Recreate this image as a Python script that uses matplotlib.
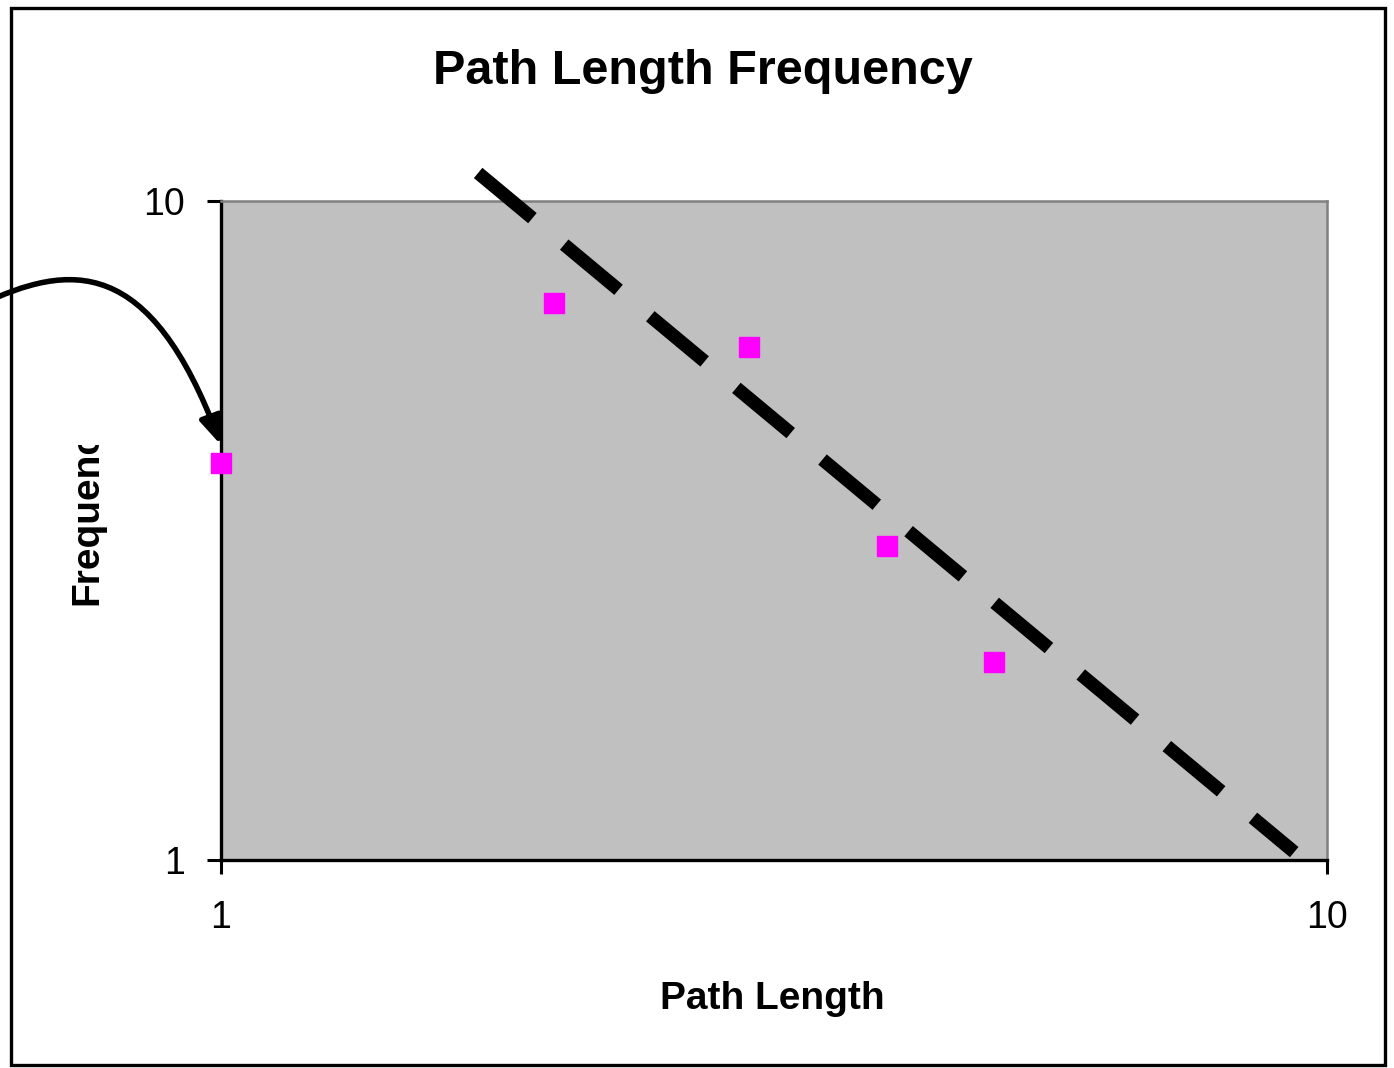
import matplotlib
matplotlib.use("Agg")
import matplotlib.pyplot as plt
from matplotlib.patches import Rectangle, FancyArrowPatch, ArrowStyle
from matplotlib.path import Path
from matplotlib.transforms import Bbox, TransformedBbox

# ---- data ----
path_length = [1, 2, 3, 4, 5]
frequency = [4, 7, 6, 3, 2]
trend_x = [1.708, 9.34]
trend_y = [11.03, 1.028]
x_ticks = [1, 10]
y_ticks = [1, 10]
tick_labels = ["1", "10"]

W, H = 1394, 1068
plt.rcParams['font.family'] = ['Liberation Sans', 'DejaVu Sans']
fig = plt.figure(figsize=(W / 100, H / 100), dpi=100)
fig.patch.set_facecolor('white')

def fx(px):
    return px / W

def fy(py):
    return 1 - py / H

ax = fig.add_axes([fx(221), fy(860), fx(1327) - fx(221), fy(201) - fy(860)])
ax.set_facecolor('#C0C0C0')
ax.set_xscale('log')
ax.set_yscale('log')
ax.set_xlim(1, 10)
ax.set_ylim(1, 10)
ax.set_xticks(x_ticks)
ax.set_xticklabels(tick_labels)
ax.set_yticks(y_ticks)
ax.set_yticklabels(tick_labels)
ax.minorticks_off()
ax.tick_params(axis='both', which='major', direction='out', length=10, width=2.2,
               labelsize=27, color='black')
ax.tick_params(axis='x', pad=19)
ax.tick_params(axis='y', pad=16)

for s in ['left', 'bottom']:
    ax.spines[s].set_color('black')
    ax.spines[s].set_linewidth(2.4)
for s in ['top', 'right']:
    ax.spines[s].set_color('#808080')
    ax.spines[s].set_linewidth(1.8)

# trend line (dashed, extending above plot area)
lw = 9.6
ax.plot(trend_x, trend_y, color='black', linewidth=lw, linestyle=(0, (5.3, 3.1)),
        dash_capstyle='butt', clip_on=False, zorder=5)

# data points
ax.plot(path_length, frequency, linestyle='none', marker='s', markersize=14,
        color='#FF00FF', markeredgecolor='#FF00FF', clip_on=False, zorder=6)

# title and axis labels
fig.text(fx(703), fy(84), 'Path Length Frequency', ha='center', va='baseline',
         fontsize=35, fontweight='bold')
fig.text(fx(772), fy(1009), 'Path Length', ha='center', va='baseline',
         fontsize=28, fontweight='bold')
yl = fig.text(fx(97), fy(605), 'Frequency', ha='left', va='baseline', rotation=90,
              rotation_mode='anchor', fontsize=28, fontweight='bold')
yl.set_clip_box(TransformedBbox(Bbox([[0, 0], [1, fy(445)]]), fig.transFigure))
yl.set_clip_on(True)

# outer border
fig.patches.append(Rectangle((fx(11), fy(1065)), fx(1385) - fx(11), fy(8) - fy(1065),
                             transform=fig.transFigure, fill=False,
                             edgecolor='black', linewidth=2.4, figure=fig))

# curved arrow
verts = [(fx(-20), fy(305)), (fx(70), fy(262)), (fx(150), fy(255)), (fx(221), fy(445))]
codes = [Path.MOVETO, Path.CURVE4, Path.CURVE4, Path.CURVE4]
arrow = FancyArrowPatch(path=Path(verts, codes), transform=fig.transFigure,
                        arrowstyle=ArrowStyle('-|>', head_length=0.55, head_width=0.22),
                        mutation_scale=30, color='black', linewidth=4, figure=fig)
fig.patches.append(arrow)

fig.savefig('out.png', dpi=100)
